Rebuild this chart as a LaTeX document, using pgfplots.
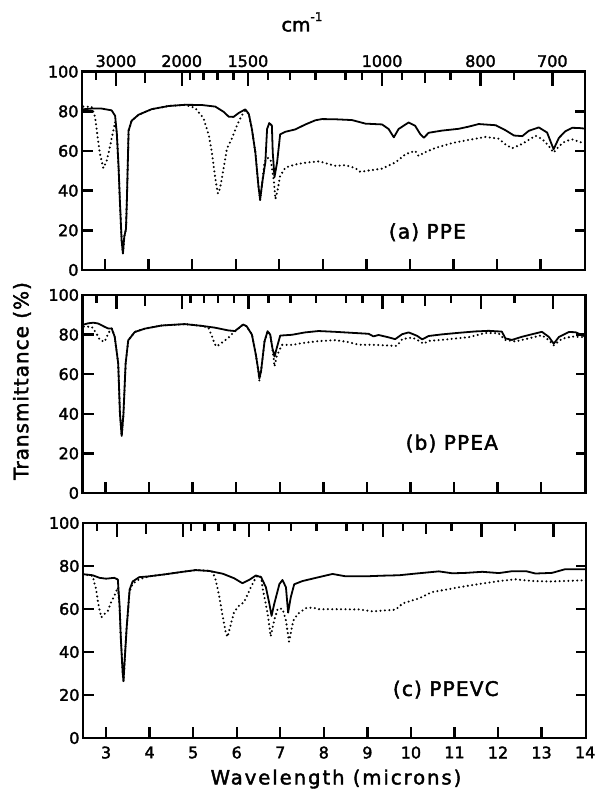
\documentclass[border=0pt]{standalone}
\usepackage{pgfplots}
\pgfplotsset{compat=1.18}
\usepackage{fontspec}
\setmainfont{DejaVu Sans}[FakeBold=2]
\pgfplotsset{
  panelbase/.style={scale only axis, width=503pt, xmin=2.47, xmax=14.02, ymin=0, ymax=100,
    anchor=south west, axis line style={line width=2.6pt},
    tick align=inside, major tick length=0pt, minor tick length=0pt,
    ytick={0,20,...,100}, xtick={3,...,14}, xtick pos=left,
    ticklabel style={font=\fontsize{16}{16}\selectfont},
    /pgf/number format/assume math mode=true},
  toppanel/.style={scale only axis, width=503pt, xmin=2.47, xmax=14.02, ymin=0, ymax=100,
    anchor=south west, axis line style={line width=2.6pt}, ytick=\empty,
    tick align=inside, major tick length=0pt, minor tick length=0pt,
    xtick pos=right, xticklabel pos=right,
    xtick={3.25,4.76,6.28,9.36,11.62,13.27},
    xticklabel style={yshift=1pt},
    ticklabel style={font=\fontsize{16}{16}\selectfont}},
  solidline/.style={black, line width=1.8pt, line join=round},
  dotline/.style={black, line width=2.3pt, line cap=round, dash pattern=on 0pt off 4.4pt},
}
\tikzset{plab/.style={font=\addfontfeatures{LetterSpace=6}\fontsize{20}{20}\selectfont},
  tk/.style={black, line width=2.4pt}}
\newcommand{\paneltickmarks}{%
  \pgfplotsinvokeforeach{3,4,5,6,7,8,9,10,11,12,13}{\draw[tk] (axis cs:##1,0) -- ++(0pt,11pt);}%
  \pgfplotsinvokeforeach{20,40,60,80}{\draw[tk] (axis cs:2.47,##1) -- ++(11pt,0pt);
     \draw[tk] (axis cs:14.02,##1) -- ++(-10pt,0pt);}%
  \pgfplotsinvokeforeach{3.25,4.76,6.28,9.36,11.62,13.27}{\draw[tk] (axis cs:##1,100) -- ++(0pt,-14pt);}%
  \pgfplotsinvokeforeach{3.91,10.34}{\draw[tk] (axis cs:##1,100) -- ++(0pt,-11pt);}%
  \pgfplotsinvokeforeach{2.79,4.95,5.26,5.58,5.95,6.74,7.25,7.83,8.52,8.90,9.82,10.93,12.39}{\draw[tk] (axis cs:##1,100) -- ++(0pt,-8pt);}%
}
\begin{document}
\begin{tikzpicture}
\path (0pt,0pt) rectangle (595pt,794pt);
% ---------------- panel (a)
\begin{axis}[panelbase, at={(82pt,524pt)}, height=198.3pt, xticklabels={}]
\addplot[dotline] coordinates {
(2.50,82.4)(2.69,82.3)(2.77,77.2)(2.83,66.9)(2.88,58.7)(2.96,51.4)(3.04,55.3)(3.11,62.0)(3.19,70.4)(3.23,74.6)
(3.27,68.8)(3.31,51.8)(3.34,34.8)(3.38,14.8)(3.41,8.3)(3.44,16.7)(3.48,20.7)(3.50,34.7)(3.54,70.3)(3.61,75.3)
(3.77,78.3)(4.07,81.1)(4.46,82.7)(4.84,83.3)
(5.07,81.7)(5.26,76.5)(5.38,68.1)(5.45,59.7)(5.53,46.2)(5.59,38.6)(5.64,41.1)(5.72,51.1)(5.80,61.3)(5.91,66.2)
(6.03,73.0)(6.14,78.0)(6.22,80.5)(6.30,78.7)(6.37,71.2)(6.45,59.4)(6.52,42.6)(6.56,35.4)(6.61,44.3)(6.66,54.5)
(6.72,56.6)(6.80,55.9)(6.87,45.8)(6.91,35.8)(6.95,39.0)(7.02,47.4)(7.14,51.7)(7.37,53.2)(7.60,54.1)(7.91,54.8)
(8.29,52.5)(8.52,52.9)(8.75,51.3)(8.86,49.5)(9.06,50.2)(9.36,51.1)(9.67,54.3)(9.90,58.4)(10.12,60.1)(10.20,57.5)
(10.32,59.1)(10.59,61.6)(10.97,64.0)(11.35,65.6)(11.74,67.1)(12.04,66.2)(12.20,63.2)(12.35,61.4)(12.58,63.6)
(12.88,67.7)(13.04,66.0)(13.19,62.5)(13.30,59.2)(13.42,62.4)(13.57,65.0)(13.73,65.8)(13.92,64.4)(14.02,64.3)};
\addplot[solidline] coordinates {
(2.47,81.0)(2.69,81.4)(2.92,81.4)(3.15,80.5)(3.23,77.8)(3.27,68.8)(3.31,51.8)(3.34,34.8)(3.38,14.8)(3.41,8.3)
(3.44,16.7)(3.48,20.7)(3.50,34.7)(3.54,70.3)(3.61,75.3)(3.77,78.3)(4.07,81.1)(4.46,82.7)(4.84,83.3)(5.22,83.2)
(5.53,82.4)(5.72,79.8)(5.84,77.3)(5.95,77.2)(6.07,79.2)(6.22,81.0)(6.30,78.7)(6.37,71.2)(6.45,59.4)(6.52,42.6)
(6.56,35.4)(6.61,44.3)(6.68,54.3)(6.72,71.1)(6.77,74.1)(6.83,72.8)(6.85,59.3)(6.89,46.8)(6.95,54.3)(7.02,68.4)
(7.14,69.7)(7.37,70.9)(7.60,73.4)(7.83,75.5)(7.98,76.1)(8.29,76.0)(8.67,75.6)(8.98,73.8)(9.36,73.4)(9.51,71.1)
(9.63,66.9)(9.74,71.1)(9.97,74.4)(10.12,72.7)(10.24,68.4)(10.32,66.7)(10.43,69.2)(10.74,70.3)(11.12,71.2)
(11.35,72.3)(11.58,73.6)(11.97,73.0)(12.20,70.4)(12.39,67.8)(12.58,67.5)(12.73,70.2)(12.96,71.9)(13.15,69.3)
(13.27,62.5)(13.30,60.9)(13.42,66.6)(13.57,70.0)(13.73,71.7)(13.88,71.6)(14.02,71.3)};
\paneltickmarks
\node[plab] at (axis cs:10.4,19) {(a) PPE};
\end{axis}
\begin{axis}[toppanel, at={(82pt,524pt)}, height=198.3pt, xticklabels={3000,2000,1500,1000,800,700}]
\end{axis}
% ---------------- panel (b)
\begin{axis}[panelbase, at={(82.5pt,301pt)}, height=198pt, xticklabels={}]
\addplot[dotline] coordinates {
(2.50,84.0)(2.68,84.0)(2.79,80.6)(2.87,77.2)(2.98,76.4)(3.06,80.6)(3.14,83.1)(3.21,78.9)(3.29,65.4)(3.33,39.9)
(3.37,28.8)(3.41,39.8)(3.46,65.3)(3.52,77.1)(3.67,81.3)(3.90,83.0)(4.29,84.6)(4.82,85.3)(5.21,84.4)
(5.36,83.5)(5.44,79.3)(5.51,75.1)(5.55,74.0)(5.67,75.9)(5.82,78.4)(5.93,80.9)(6.16,85.1)(6.24,84.2)(6.36,80.0)
(6.45,69.9)(6.51,61.5)(6.53,56.8)(6.57,61.5)(6.65,76.6)(6.72,81.7)(6.78,80.0)(6.83,73.2)(6.88,63.9)(6.93,69.2)
(7.05,74.8)(7.28,74.8)(7.58,75.9)(7.89,76.7)(8.27,77.2)(8.58,76.2)(8.81,74.9)(9.19,74.8)(9.57,74.4)(9.69,74.3)
(9.81,77.7)(10.04,78.5)(10.19,76.9)(10.30,75.4)(10.42,76.8)(10.80,77.5)(11.34,78.7)(11.72,80.8)(12.02,80.7)
(12.18,77.3)(12.41,76.5)(12.87,78.9)(13.02,79.7)(13.18,77.1)(13.29,74.6)(13.48,77.9)(13.71,79.0)(14.02,78.7)};
\addplot[solidline] coordinates {
(2.47,84.9)(2.60,85.7)(2.72,86.0)(2.83,85.6)(2.98,83.9)(3.06,83.1)(3.14,83.1)(3.21,78.9)(3.29,65.4)(3.33,39.9)
(3.37,28.8)(3.41,39.8)(3.46,65.3)(3.52,77.1)(3.67,81.3)(3.90,83.0)(4.29,84.6)(4.82,85.3)(5.21,84.4)(5.51,83.5)
(5.82,82.1)(5.97,81.8)(6.16,85.1)(6.24,84.2)(6.36,80.0)(6.45,69.9)(6.51,61.5)(6.53,57.8)(6.57,61.5)(6.65,76.6)
(6.72,81.7)(6.78,80.0)(6.83,73.2)(6.88,68.9)(6.93,73.2)(7.01,79.5)(7.28,79.9)(7.58,81.1)(7.89,81.8)(8.27,81.4)
(8.65,80.9)(9.04,80.4)(9.15,79.1)(9.27,79.8)(9.50,78.6)(9.65,77.7)(9.81,80.2)(9.96,81.1)(10.15,79.4)(10.27,77.6)
(10.42,79.3)(10.72,80.1)(11.11,80.9)(11.49,81.6)(11.80,81.9)(12.10,81.5)(12.18,78.1)(12.33,77.3)(12.56,78.9)
(12.87,80.6)(13.02,81.4)(13.18,78.8)(13.29,75.4)(13.41,78.8)(13.64,81.3)(13.79,81.2)(14.02,79.0)};
\paneltickmarks
\node[plab] at (axis cs:10.95,25) {(b) PPEA};
\end{axis}
% ---------------- panel (c)
\begin{axis}[panelbase, at={(83pt,56pt)}, height=215pt, xticklabel style={yshift=-5pt}]
\addplot[dotline] coordinates {
(2.47,76.2)(2.69,75.4)(2.77,69.2)(2.83,61.4)(2.89,56.1)(2.96,57.6)(3.04,59.1)(3.11,62.9)(3.19,66.1)(3.27,70.0)
(3.31,61.4)(3.34,45.9)(3.38,30.7)(3.40,26.4)(3.42,33.7)(3.47,50.6)(3.54,68.0)(3.61,71.8)(3.76,73.8)(3.99,75.2)
(4.38,76.2)(4.76,77.3)(5.06,78.1)(5.37,77.7)(5.45,77.2)(5.52,73.3)(5.60,65.7)(5.68,56.4)(5.75,48.7)(5.79,47.0)
(5.87,53.3)(5.94,58.6)(6.06,61.7)(6.17,63.2)(6.29,68.6)(6.40,73.2)(6.48,75.6)(6.56,74.8)(6.59,70.1)(6.71,57.8)
(6.78,47.3)(6.86,54.7)(6.94,60.1)(7.05,60.1)(7.13,54.7)(7.20,44.8)(7.30,54.6)(7.40,57.7)(7.59,60.4)(7.74,60.7)
(7.89,59.9)(8.35,59.9)(8.81,59.8)(9.12,58.9)(9.65,59.7)(9.81,62.6)(10.19,65.0)(10.49,67.9)(10.72,68.7)
(11.10,70.1)(11.56,71.6)(12.02,73.0)(12.40,73.8)(12.79,73.0)(13.24,72.8)(13.89,73.3)(14.02,73.3)};
\addplot[solidline] coordinates {
(2.47,76.2)(2.69,75.7)(2.85,74.5)(3.00,74.1)(3.19,74.5)(3.27,73.7)(3.31,61.4)(3.34,45.9)(3.38,30.7)(3.40,26.4)
(3.42,33.7)(3.47,50.6)(3.54,69.0)(3.61,72.8)(3.76,74.8)(3.99,75.2)(4.38,76.2)(4.76,77.3)(5.06,78.1)(5.37,77.7)
(5.68,76.4)(5.94,74.3)(6.13,72.0)(6.29,73.6)(6.44,75.6)(6.56,74.8)(6.67,70.1)(6.75,62.4)(6.80,56.8)(6.86,62.3)
(6.98,71.6)(7.05,73.5)(7.13,70.1)(7.18,58.3)(7.24,65.4)(7.32,71.5)(7.51,73.0)(7.82,74.5)(8.20,76.3)(8.50,75.2)
(8.96,75.2)(9.35,75.5)(9.73,75.7)(10.12,76.5)(10.64,77.5)(10.95,76.6)(11.26,76.8)(11.64,77.3)(12.02,76.7)
(12.33,77.6)(12.64,77.6)(12.86,76.5)(13.24,76.8)(13.54,78.5)(13.85,78.5)(14.02,78.5)};
\paneltickmarks
\node[plab] at (axis cs:10.8,22.5) {(c) PPEVC};
\end{axis}
% ---------------- axis titles
\node[rotate=90, font=\addfontfeatures{LetterSpace=5}\fontsize{20}{20}\selectfont] at (22pt,413pt) {Transmittance (\%)};
\node[font=\addfontfeatures{LetterSpace=10}\fontsize{19.6}{20}\selectfont] at (336pt,15pt) {Wavelength (microns)};
\node[font=\fontsize{19}{19}\selectfont] at (302pt,772pt) {cm\raisebox{0.55em}{\fontsize{12}{12}\selectfont -1}};
\end{tikzpicture}
\end{document}
